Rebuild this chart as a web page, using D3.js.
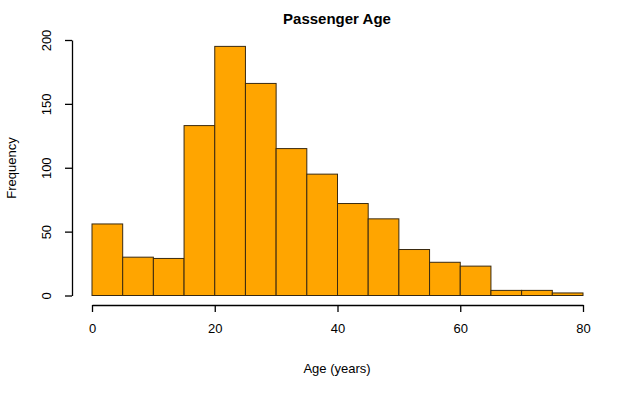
<!DOCTYPE html>
<html>
<head>
<meta charset="utf-8">
<script src="https://cdn.jsdelivr.net/npm/d3@7"></script>
<style>
  body { margin: 0; background: #fff; }
  svg { font-family: "Liberation Sans", Arial, sans-serif; }
</style>
</head>
<body>
<div id="chart"></div>
<script>
// bin edges (years) and counts per bin
const binStarts = [0, 5, 10, 15, 20, 25, 30, 35, 40, 45, 50, 55, 60, 65, 70, 75];
const binWidth = 5;
const counts = [56, 30, 29, 133, 195, 166, 115, 95, 72, 60, 36, 26, 23, 4, 4, 2];
const xTicks = [0, 20, 40, 60, 80];
const yTicks = [0, 50, 100, 150, 200];

const width = 640, height = 395;

const svg = d3.select("#chart").append("svg")
  .attr("width", width)
  .attr("height", height);

const x = d3.scaleLinear().domain([0, 80]).range([92, 583]);
const y = d3.scaleLinear().domain([0, 200]).range([295.5, 40]);

// bars
svg.selectAll("rect.bar")
  .data(counts)
  .enter()
  .append("rect")
  .attr("class", "bar")
  .attr("x", (d, i) => x(binStarts[i]))
  .attr("y", d => y(d))
  .attr("width", (d, i) => x(binStarts[i] + binWidth) - x(binStarts[i]))
  .attr("height", d => y(0) - y(d))
  .attr("fill", "#FFA500")
  .attr("stroke", "#3a2a10")
  .attr("stroke-width", 1);

// x axis (R style: detached below)
const xAxis = svg.append("g")
  .attr("transform", "translate(0,305)")
  .call(d3.axisBottom(x).tickValues(xTicks).tickSize(7).tickPadding(12).tickSizeOuter(0));
xAxis.select(".domain").attr("stroke", "#000").attr("stroke-width", 1.3);
xAxis.selectAll(".tick line").attr("stroke", "#000").attr("stroke-width", 1.3);
xAxis.selectAll("text").attr("font-size", 13).attr("fill", "#000");

// y axis
const yAxis = svg.append("g")
  .attr("transform", "translate(72,0)")
  .call(d3.axisLeft(y).tickValues(yTicks).tickSize(7).tickSizeOuter(0));
yAxis.select(".domain").attr("stroke", "#000").attr("stroke-width", 1.3);
yAxis.selectAll(".tick line").attr("stroke", "#000").attr("stroke-width", 1.3);
yAxis.selectAll("text")
  .attr("font-size", 13)
  .attr("fill", "#000")
  .attr("x", 0)
  .attr("dy", 0)
  .attr("transform", "translate(-24,0) rotate(-90)")
  .style("text-anchor", "middle")
  .attr("dominant-baseline", "middle");

// titles
svg.append("text")
  .attr("x", 337)
  .attr("y", 24)
  .attr("text-anchor", "middle")
  .attr("font-size", 15)
  .attr("font-weight", "bold")
  .text("Passenger Age");

svg.append("text")
  .attr("x", 337)
  .attr("y", 373)
  .attr("text-anchor", "middle")
  .attr("font-size", 13)
  .text("Age (years)");

svg.append("text")
  .attr("transform", "translate(16,168) rotate(-90)")
  .attr("text-anchor", "middle")
  .attr("font-size", 13)
  .text("Frequency");
</script>
</body>
</html>
